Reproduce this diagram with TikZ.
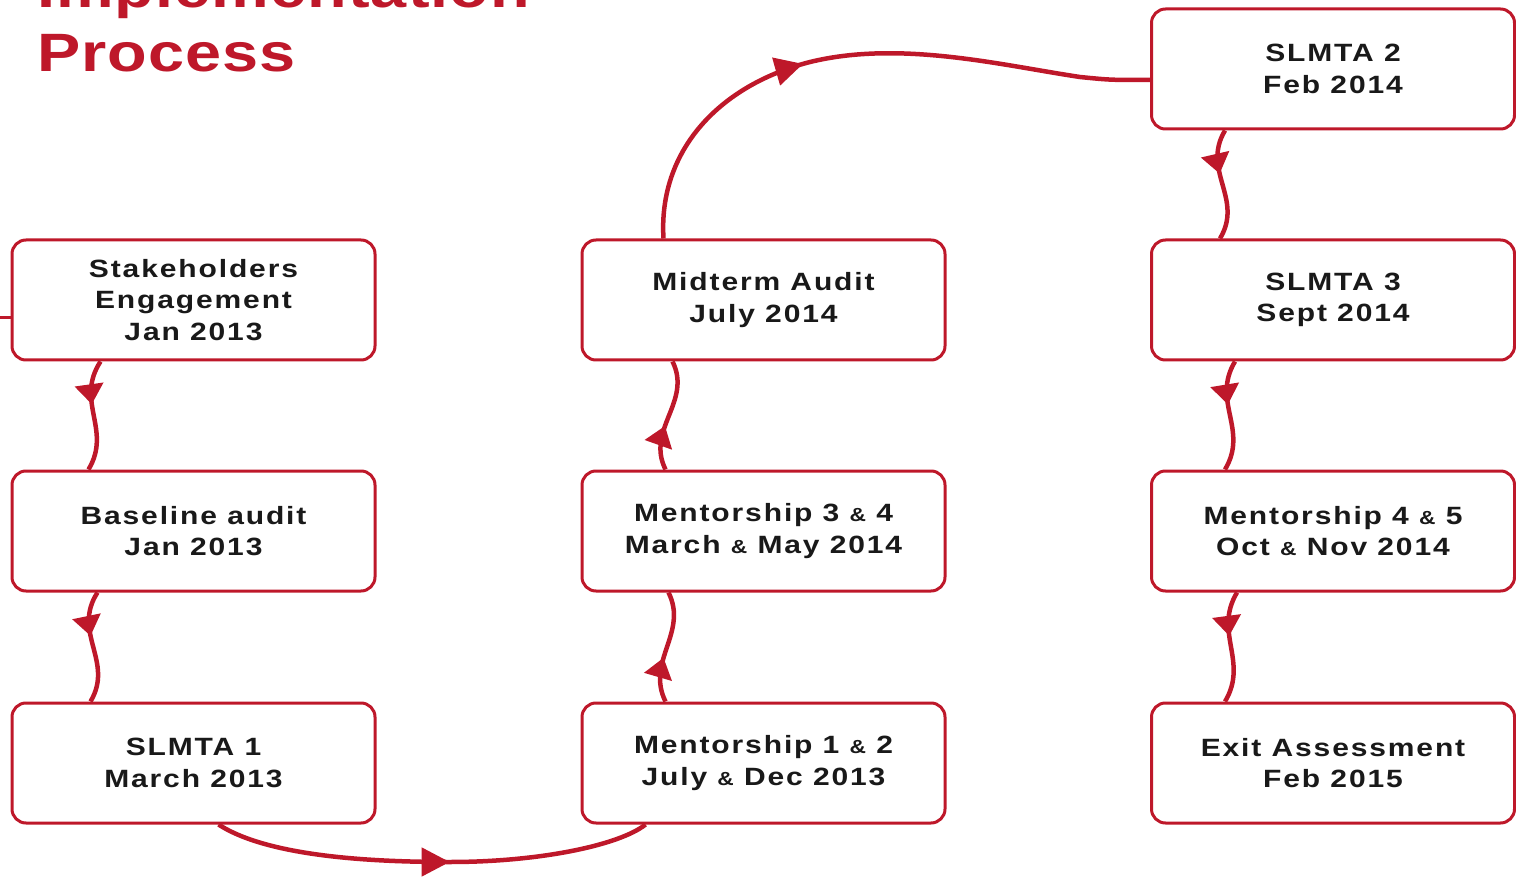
\documentclass[tikz,border=0pt]{standalone}
\usepackage{fontspec}
\setmainfont{Liberation Sans}
\usetikzlibrary{arrows.meta,decorations.markings}
\definecolor{slred}{RGB}{190,24,42}
\definecolor{txtc}{RGB}{25,25,25}
\newcommand\boxfont{\fontsize{25}{31.5}\selectfont\bfseries\addfontfeature{FakeStretch=1.2,LetterSpace=7.5}}
\newcommand\titlefont{\fontsize{54}{64}\selectfont\bfseries\addfontfeature{FakeStretch=1.2,LetterSpace=2}}
\newcommand\smamp{{\fontsize{19}{31.5}\selectfont\&}}
\begin{document}
\begin{tikzpicture}[x=1pt,y=-1pt,
  box/.style={draw=slred, line width=3pt, rounded corners=14pt, minimum width=363pt,
    minimum height=120pt, align=center, text=txtc, font=\boxfont, inner sep=0pt},
  link/.style={draw=slred, line width=4.5pt},
  wavy/.style={link, decoration={markings, mark=at position 0.4 with {\arrow{Triangle[length=20pt,width=28pt]}}}, postaction={decorate}},
  big/.style={link, decoration={markings, mark=at position #1 with {\arrow{Triangle[length=28pt,width=28pt]}}}, postaction={decorate}},
  ttl/.style={anchor=base west, text=slred, font=\titlefont, inner sep=0pt}]
\useasboundingbox (0,0) rectangle (1516,877);

% title
\node[ttl] (t1) at (37,8) {Implementation};
\node[ttl] (t2) at (37,72) {Process};

% boxes
\node[box] (sh)  at (193.5,300) {Stakeholders\\Engagement\\Jan 2013};
\node[box] (ba)  at (193.5,531) {Baseline audit\\Jan 2013};
\node[box] (s1)  at (193.5,763) {SLMTA 1\\March 2013};
\node[box] (m12) at (763.5,763) {Mentorship 1 \smamp{} 2\\July \smamp{} Dec 2013};
\node[box] (m34) at (763.5,531) {Mentorship 3 \smamp{} 4\\March \smamp{} May 2014};
\node[box] (mid) at (763.5,300) {Midterm Audit\\July 2014};
\node[box] (s2)  at (1333,69)   {SLMTA 2\\Feb 2014};
\node[box] (s3)  at (1333,300)  {SLMTA 3\\Sept 2014};
\node[box] (m45) at (1333,531)  {Mentorship 4 \smamp{} 5\\Oct \smamp{} Nov 2014};
\node[box] (ex)  at (1333,763)  {Exit Assessment\\Feb 2015};

% connectors
\coordinate (lin) at (0,318);
\draw[link,line width=3pt] (lin) -- ([yshift=-18pt]sh.west);

\draw[wavy] ([xshift=-93pt]sh.south) .. controls +(-26,40) and +(24,-40) .. ([xshift=-105pt]ba.north);
\draw[wavy] ([xshift=-96pt]ba.south) .. controls +(-26,40) and +(24,-40) .. ([xshift=-103pt]s1.north);

\draw[big=0.54] ([xshift=25pt]s1.south) .. controls (270,858) and (380,862) .. (450,862)
   .. controls (540,862) and (620,845) .. ([xshift=-118pt]m12.south);

\draw[wavy] ([xshift=-98pt]m12.north) .. controls +(-20,-40) and +(20,40) .. ([xshift=-95pt]m34.south);
\draw[wavy] ([xshift=-98pt]m34.north) .. controls +(-20,-40) and +(20,40) .. ([xshift=-91pt]mid.south);

\draw[big=0.41] ([xshift=-100pt]mid.north) .. controls (658,150) and (720,85) .. (810,62)
   .. controls (900,40) and (1000,65) .. (1080,77) .. controls (1110,80) .. ([yshift=-11pt]s2.west);

\draw[wavy] ([xshift=-108pt]s2.south) .. controls +(-24,40) and +(24,-40) .. ([xshift=-113pt]s3.north);
\draw[wavy] ([xshift=-98pt]s3.south) .. controls +(-24,40) and +(24,-40) .. ([xshift=-108pt]m45.north);
\draw[wavy] ([xshift=-96pt]m45.south) .. controls +(-24,40) and +(24,-40) .. ([xshift=-108pt]ex.north);
\end{tikzpicture}
\end{document}
